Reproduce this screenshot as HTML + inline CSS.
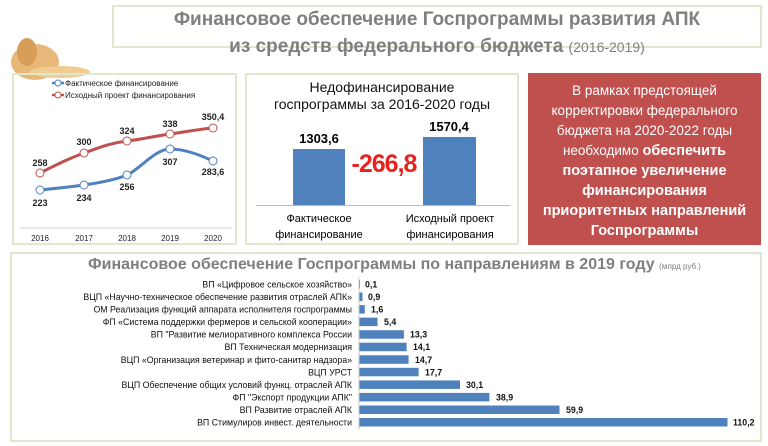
<!DOCTYPE html>
<html><head><meta charset="utf-8"><style>
body{margin:0;width:768px;height:446px;background:#fff;overflow:hidden;font-family:"Liberation Sans",sans-serif;position:relative}
.box{position:absolute;border:2px solid #dfe8cf;box-sizing:border-box}
.t{position:absolute;white-space:nowrap}
</style></head><body>
<svg style="position:absolute;left:5px;top:22px" width="100" height="70">
<ellipse cx="30" cy="40" rx="24" ry="18" fill="#e8b878"/>
<ellipse cx="55" cy="50" rx="30" ry="6" fill="#f0cc90"/>
<ellipse cx="22" cy="30" rx="10" ry="14" fill="#d89e58"/>
</svg>
<div class="box" style="left:112px;top:5px;width:650px;height:43px"></div>
<div class="t" style="left:112px;width:650px;top:9px;text-align:center;font-size:19px;font-weight:bold;color:#7f7f7f">Финансовое обеспечение Госпрограммы развития АПК</div>
<div class="t" style="left:112px;width:650px;top:36px;text-align:center;font-size:19px;font-weight:bold;color:#7f7f7f">из средств федерального бюджета <span style="font-weight:normal;font-size:14px">(2016-2019)</span></div>

<div class="box" style="left:12px;top:73px;width:225px;height:172px"></div>
<svg style="position:absolute;left:0;top:0" width="240" height="250" font-family="Liberation Sans, sans-serif">
<line x1="52" y1="83" x2="64" y2="83" stroke="#4f81bd" stroke-width="2.5"/><circle cx="58" cy="83" r="3" fill="#fff" stroke="#4f81bd"/>
<text x="65" y="86" font-size="8" fill="#222">Фактическое финансирование</text>
<line x1="52" y1="95" x2="64" y2="95" stroke="#c0504d" stroke-width="2.5"/><circle cx="58" cy="95" r="3" fill="#fff" stroke="#c0504d"/>
<text x="65" y="98" font-size="8" fill="#222">Исходный проект финансирования</text>
<line x1="20" y1="228" x2="232" y2="228" stroke="#ccc"/>
<path d="M40 173 C60 163,70 158,84 153 S110 143,127 141 S155 136,170 134 S200 129,213 128" fill="none" stroke="#c0504d" stroke-width="3"/>
<path d="M40 190 C60 188,70 187,84 185 S115 180,127 175 S155 149,170 149 S200 155,213 161" fill="none" stroke="#4f81bd" stroke-width="3"/>
<g fill="#fff" stroke-width="1"><circle cx="40" cy="173" r="4" stroke="#c0504d"/><circle cx="84" cy="153" r="4" stroke="#c0504d"/><circle cx="127" cy="141" r="4" stroke="#c0504d"/><circle cx="170" cy="134" r="4" stroke="#c0504d"/><circle cx="213" cy="128" r="4" stroke="#c0504d"/>
<circle cx="40" cy="190" r="4" stroke="#4f81bd"/><circle cx="84" cy="185" r="4" stroke="#4f81bd"/><circle cx="127" cy="175" r="4" stroke="#4f81bd"/><circle cx="170" cy="149" r="4" stroke="#4f81bd"/><circle cx="213" cy="161" r="4" stroke="#4f81bd"/></g>
<g font-size="9" font-weight="bold" fill="#222" text-anchor="middle">
<text x="40" y="166">258</text><text x="84" y="145">300</text><text x="127" y="134">324</text><text x="170" y="127">338</text><text x="213" y="120">350,4</text>
<text x="40" y="206">223</text><text x="84" y="201">234</text><text x="127" y="190">256</text><text x="170" y="165">307</text><text x="213" y="175">283,6</text></g>
<g font-size="8" fill="#222" text-anchor="middle"><text x="40" y="241">2016</text><text x="84" y="241">2017</text><text x="127" y="241">2018</text><text x="170" y="241">2019</text><text x="213" y="241">2020</text></g>
</svg>

<div class="box" style="left:245px;top:73px;width:274px;height:172px"></div>
<div class="t" style="left:245px;width:274px;top:79px;text-align:center;font-size:14px;line-height:17px;color:#111">Недофинансирование<br>госпрограммы за 2016-2020 годы</div>
<div style="position:absolute;left:293px;top:149px;width:52px;height:56px;background:#4f81bd"></div>
<div style="position:absolute;left:423px;top:137px;width:53px;height:68px;background:#4f81bd"></div>
<div style="position:absolute;left:256px;top:205px;width:254px;height:1px;background:#bbb"></div>
<div class="t" style="left:289px;width:60px;top:131px;text-align:center;font-size:13px;font-weight:bold">1303,6</div>
<div class="t" style="left:419px;width:60px;top:119px;text-align:center;font-size:13px;font-weight:bold">1570,4</div>
<div class="t" style="left:345px;width:78px;top:150px;text-align:center;font-size:25px;font-weight:bold;color:#e8231e;letter-spacing:-1px">-266,8</div>
<div class="t" style="left:269px;width:100px;top:211px;text-align:center;font-size:11px;line-height:16px">Фактическое<br>финансирование</div>
<div class="t" style="left:398px;width:104px;top:211px;text-align:center;font-size:11px;line-height:16px">Исходный проект<br>финансирования</div>

<div style="position:absolute;left:528px;top:73px;width:233px;height:172px;background:#c0504d"></div>
<div class="t" style="left:528px;width:233px;top:81px;text-align:center;font-size:13.5px;line-height:20px;color:#fff">В рамках предстоящей<br>корректировки федерального<br>бюджета на 2020-2022 годы<br>необходимо <b style="font-size:14.5px">обеспечить</b><br><b style="font-size:14.5px">поэтапное увеличение<br>финансирования<br>приоритетных направлений<br>Госпрограммы</b></div>

<div class="box" style="left:10px;top:252px;width:752px;height:190px"></div>
<div class="t" style="left:88px;top:256px;font-size:16px;font-weight:bold;color:#7f7f7f">Финансовое обеспечение Госпрограммы по направлениям в 2019 году <span style="font-size:8px;font-weight:normal">(млрд руб.)</span></div>
<svg style="position:absolute;left:0;top:0" width="768" height="446" font-family="Liberation Sans, sans-serif" font-size="8.8" fill="#111">
<line x1="359" y1="277" x2="359" y2="430" stroke="#ccc"/>
<g text-anchor="end">
<text x="352" y="287.5">ВП «Цифровое сельское хозяйство»</text>
<text x="352" y="300">ВЦП «Научно-техническое обеспечение развития отраслей АПК»</text>
<text x="352" y="312.6">ОМ Реализация функций аппарата исполнителя госпрограммы</text>
<text x="352" y="325.1">ФП «Система поддержки фермеров и сельской кооперации»</text>
<text x="352" y="337.7">ВП "Развитие мелиоративного комплекса России</text>
<text x="352" y="350.2">ВП Техническая модернизация</text>
<text x="352" y="362.8">ВЦП «Организация ветеринар и фито-санитар надзора»</text>
<text x="352" y="375.3">ВЦП УРСТ</text>
<text x="352" y="387.9">ВЦП Обеспечение общих условий функц. отраслей АПК</text>
<text x="352" y="400.4">ФП "Экспорт продукции АПК"</text>
<text x="352" y="413">ВП Развитие отраслей АПК</text>
<text x="352" y="425.5">ВП Стимулиров инвест. деятельности</text>
</g>
<g fill="#4f81bd">
<rect x="359.5" y="280" width="0.5" height="8.5"/>
<rect x="359.5" y="292.5" width="3" height="8.5"/>
<rect x="359.5" y="305.1" width="5.3" height="8.5"/>
<rect x="359.5" y="317.6" width="18" height="8.5"/>
<rect x="359.5" y="330.2" width="44.4" height="8.5"/>
<rect x="359.5" y="342.7" width="47.1" height="8.5"/>
<rect x="359.5" y="355.3" width="49.1" height="8.5"/>
<rect x="359.5" y="367.8" width="59.1" height="8.5"/>
<rect x="359.5" y="380.4" width="100.5" height="8.5"/>
<rect x="359.5" y="392.9" width="129.9" height="8.5"/>
<rect x="359.5" y="405.5" width="200" height="8.5"/>
<rect x="359.5" y="418" width="368" height="8.5"/>
</g>
<g font-weight="bold">
<text x="365" y="287.5">0,1</text>
<text x="368" y="300">0,9</text>
<text x="371" y="312.6">1,6</text>
<text x="384" y="325.1">5,4</text>
<text x="410" y="337.7">13,3</text>
<text x="413" y="350.2">14,1</text>
<text x="415" y="362.8">14,7</text>
<text x="425" y="375.3">17,7</text>
<text x="466" y="387.9">30,1</text>
<text x="496" y="400.4">38,9</text>
<text x="566" y="413">59,9</text>
<text x="733" y="425.5">110,2</text>
</g>
</svg>
</body></html>
